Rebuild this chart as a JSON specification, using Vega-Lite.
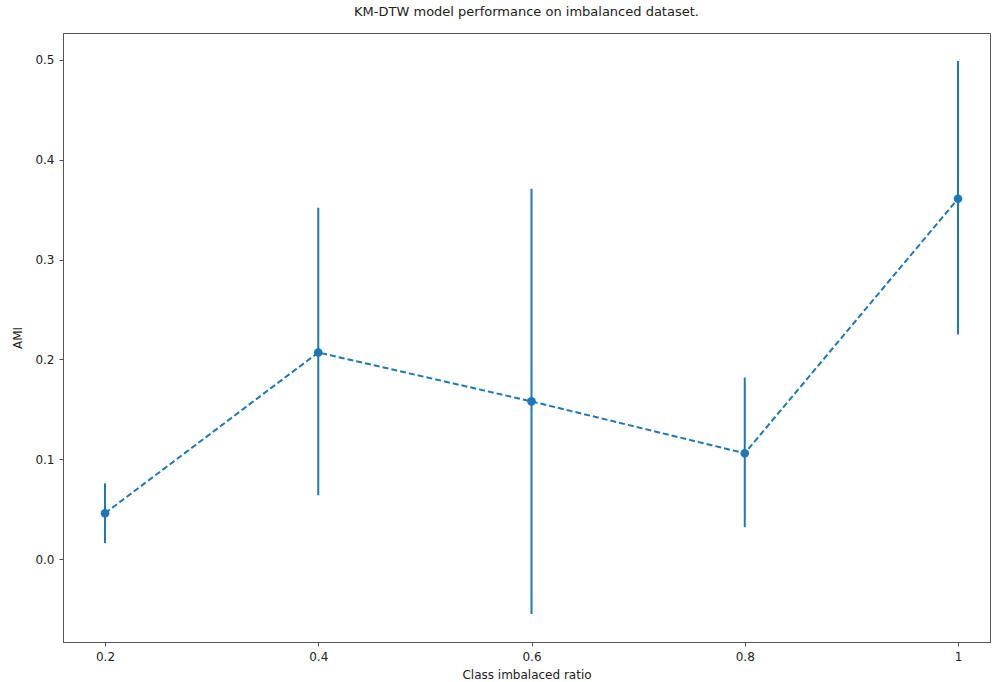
{
  "$schema": "https://vega.github.io/schema/vega-lite/v6.json",
  "width": 927,
  "height": 609,
  "autosize": "none",
  "padding": {"left": 63, "top": 33, "right": 4, "bottom": 40},
  "background": "white",
  "config": {
    "font": "DejaVu Sans",
    "view": {"stroke": "#555", "strokeWidth": 1},
    "axis": {
      "grid": false,
      "domainColor": "#555",
      "tickColor": "#555",
      "tickSize": 4,
      "labelFontSize": 12,
      "labelColor": "#222",
      "titleFontSize": 12,
      "titleFontWeight": "normal",
      "titleColor": "#222",
      "labelFont": "DejaVu Sans",
      "titleFont": "DejaVu Sans"
    }
  },
  "title": {
    "text": "KM-DTW model performance on imbalanced dataset.",
    "fontSize": 13,
    "fontWeight": "normal",
    "color": "#222",
    "font": "DejaVu Sans",
    "offset": 14
  },
  "data": {
    "values": [
      {"ratio": 0.2, "ami": 0.046, "lo": 0.016, "hi": 0.076},
      {"ratio": 0.4, "ami": 0.207, "lo": 0.064, "hi": 0.352},
      {"ratio": 0.6, "ami": 0.158, "lo": -0.055, "hi": 0.371},
      {"ratio": 0.8, "ami": 0.106, "lo": 0.032, "hi": 0.182},
      {"ratio": 1.0, "ami": 0.361, "lo": 0.225, "hi": 0.499}
    ]
  },
  "encoding": {
    "x": {
      "field": "ratio",
      "type": "quantitative",
      "scale": {"domain": [0.1606, 1.030], "nice": false, "zero": false},
      "axis": {
        "title": "Class imbalaced ratio",
        "values": [0.2, 0.4, 0.6, 0.8, 1.0],
        "labelExpr": "datum.value == 1 ? '1' : format(datum.value, '.1f')",
        "labelPadding": 5,
        "titlePadding": 7
      }
    }
  },
  "layer": [
    {
      "mark": {"type": "rule", "color": "#1f77b4", "strokeWidth": 2},
      "encoding": {
        "y": {
          "field": "lo",
          "type": "quantitative",
          "scale": {"domain": [-0.083, 0.527], "nice": false, "zero": false},
          "axis": {
            "title": "AMI",
            "values": [0, 0.1, 0.2, 0.3, 0.4, 0.5],
            "format": ".1f",
            "labelPadding": 5,
            "titlePadding": 10
          }
        },
        "y2": {"field": "hi"}
      }
    },
    {
      "mark": {"type": "line", "color": "#1f77b4", "strokeWidth": 2, "strokeDash": [6, 3]},
      "encoding": {
        "y": {"field": "ami", "type": "quantitative"}
      }
    },
    {
      "mark": {"type": "circle", "color": "#1f77b4", "opacity": 1, "size": 75},
      "encoding": {
        "y": {"field": "ami", "type": "quantitative"}
      }
    }
  ]
}
